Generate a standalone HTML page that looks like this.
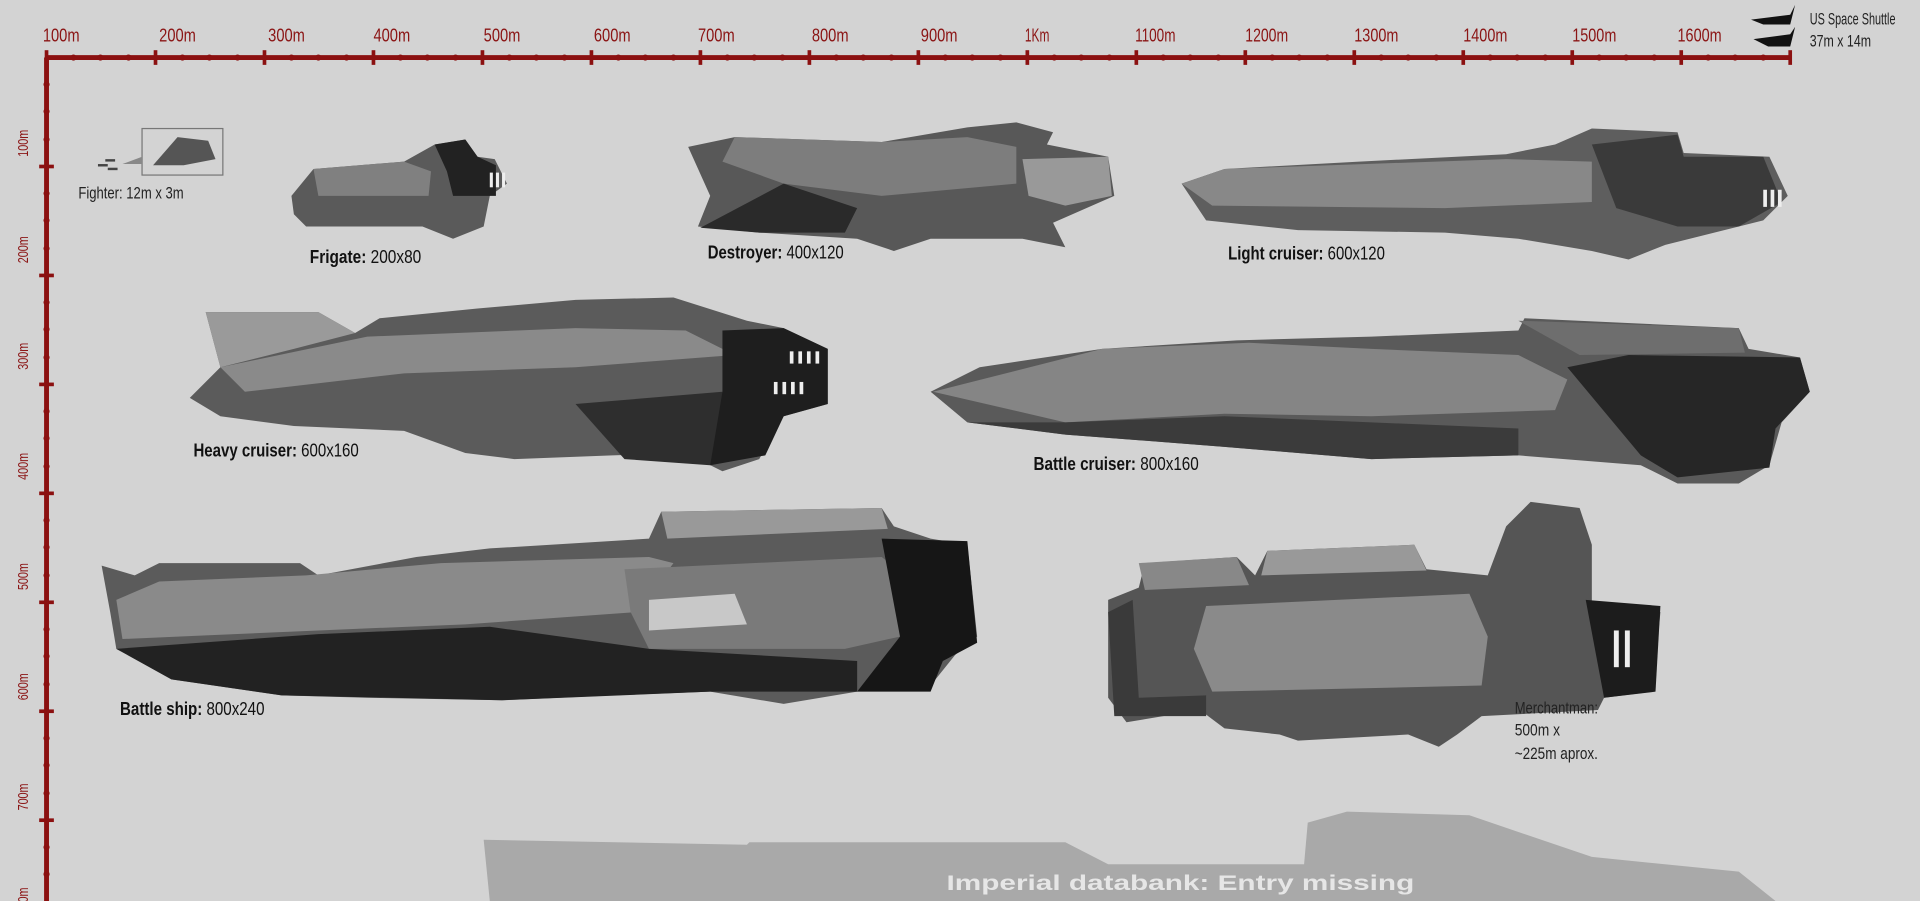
<!DOCTYPE html>
<html><head><meta charset="utf-8"><style>
html,body{margin:0;padding:0;background:#d3d3d3;}
svg{display:block;}
text{font-family:"Liberation Sans Narrow","Liberation Sans",sans-serif;}
</style></head><body>
<svg width="1920" height="901" viewBox="0 0 1568 736" preserveAspectRatio="none" xmlns="http://www.w3.org/2000/svg">
<rect width="1568" height="736" fill="#d3d3d3"/>
<polygon points="395,686 610,690 612,688 870,688 905,706 1065,706 1068,672 1100,663 1200,666 1300,700 1420,712 1450,736 400,736" fill="#a9a9a9"/>
<text x="773" y="727" font-family="Liberation Sans" font-weight="bold" font-size="17" fill="#e6e6e6" textLength="382" lengthAdjust="spacingAndGlyphs">Imperial databank: Entry missing</text>

<g stroke="#8b1010" fill="#8b1010">
<line x1="38" y1="47" x2="1463" y2="47" stroke-width="4"/>
<line x1="38" y1="47" x2="38" y2="736" stroke-width="4"/>
<g stroke-width="3">
<line x1="38" y1="41" x2="38" y2="53"/><line x1="127" y1="41" x2="127" y2="53"/><line x1="216" y1="41" x2="216" y2="53"/><line x1="305" y1="41" x2="305" y2="53"/><line x1="394" y1="41" x2="394" y2="53"/><line x1="483" y1="41" x2="483" y2="53"/><line x1="572" y1="41" x2="572" y2="53"/><line x1="661" y1="41" x2="661" y2="53"/><line x1="750" y1="41" x2="750" y2="53"/><line x1="839" y1="41" x2="839" y2="53"/><line x1="928" y1="41" x2="928" y2="53"/><line x1="1017" y1="41" x2="1017" y2="53"/><line x1="1106" y1="41" x2="1106" y2="53"/><line x1="1195" y1="41" x2="1195" y2="53"/><line x1="1284" y1="41" x2="1284" y2="53"/><line x1="1373" y1="41" x2="1373" y2="53"/><line x1="1462" y1="41" x2="1462" y2="53"/>
<line x1="32" y1="136" x2="44" y2="136"/><line x1="32" y1="225" x2="44" y2="225"/><line x1="32" y1="314" x2="44" y2="314"/><line x1="32" y1="403" x2="44" y2="403"/><line x1="32" y1="492" x2="44" y2="492"/><line x1="32" y1="581" x2="44" y2="581"/><line x1="32" y1="670" x2="44" y2="670"/>
</g>
<g stroke="none">
<circle cx="60" cy="47" r="2.5"/><circle cx="82" cy="47" r="2.5"/><circle cx="105" cy="47" r="2.5"/>
<circle cx="149" cy="47" r="2.5"/><circle cx="171" cy="47" r="2.5"/><circle cx="194" cy="47" r="2.5"/>
<circle cx="238" cy="47" r="2.5"/><circle cx="260" cy="47" r="2.5"/><circle cx="283" cy="47" r="2.5"/>
<circle cx="327" cy="47" r="2.5"/><circle cx="349" cy="47" r="2.5"/><circle cx="372" cy="47" r="2.5"/>
<circle cx="416" cy="47" r="2.5"/><circle cx="438" cy="47" r="2.5"/><circle cx="461" cy="47" r="2.5"/>
<circle cx="505" cy="47" r="2.5"/><circle cx="527" cy="47" r="2.5"/><circle cx="550" cy="47" r="2.5"/>
<circle cx="594" cy="47" r="2.5"/><circle cx="616" cy="47" r="2.5"/><circle cx="639" cy="47" r="2.5"/>
<circle cx="683" cy="47" r="2.5"/><circle cx="705" cy="47" r="2.5"/><circle cx="728" cy="47" r="2.5"/>
<circle cx="772" cy="47" r="2.5"/><circle cx="794" cy="47" r="2.5"/><circle cx="817" cy="47" r="2.5"/>
<circle cx="861" cy="47" r="2.5"/><circle cx="883" cy="47" r="2.5"/><circle cx="906" cy="47" r="2.5"/>
<circle cx="950" cy="47" r="2.5"/><circle cx="972" cy="47" r="2.5"/><circle cx="995" cy="47" r="2.5"/>
<circle cx="1039" cy="47" r="2.5"/><circle cx="1061" cy="47" r="2.5"/><circle cx="1084" cy="47" r="2.5"/>
<circle cx="1128" cy="47" r="2.5"/><circle cx="1150" cy="47" r="2.5"/><circle cx="1173" cy="47" r="2.5"/>
<circle cx="1217" cy="47" r="2.5"/><circle cx="1239" cy="47" r="2.5"/><circle cx="1262" cy="47" r="2.5"/>
<circle cx="1306" cy="47" r="2.5"/><circle cx="1328" cy="47" r="2.5"/><circle cx="1351" cy="47" r="2.5"/>
<circle cx="1395" cy="47" r="2.5"/><circle cx="1417" cy="47" r="2.5"/><circle cx="1440" cy="47" r="2.5"/>
<circle cx="38" cy="69" r="2.5"/><circle cx="38" cy="91" r="2.5"/><circle cx="38" cy="114" r="2.5"/>
<circle cx="38" cy="158" r="2.5"/><circle cx="38" cy="180" r="2.5"/><circle cx="38" cy="203" r="2.5"/>
<circle cx="38" cy="247" r="2.5"/><circle cx="38" cy="269" r="2.5"/><circle cx="38" cy="292" r="2.5"/>
<circle cx="38" cy="336" r="2.5"/><circle cx="38" cy="358" r="2.5"/><circle cx="38" cy="381" r="2.5"/>
<circle cx="38" cy="425" r="2.5"/><circle cx="38" cy="447" r="2.5"/><circle cx="38" cy="470" r="2.5"/>
<circle cx="38" cy="514" r="2.5"/><circle cx="38" cy="536" r="2.5"/><circle cx="38" cy="559" r="2.5"/>
<circle cx="38" cy="603" r="2.5"/><circle cx="38" cy="625" r="2.5"/><circle cx="38" cy="648" r="2.5"/>
<circle cx="38" cy="692" r="2.5"/><circle cx="38" cy="714" r="2.5"/>
</g>
</g>
<g fill="#8b1515" font-size="15" lengthAdjust="spacingAndGlyphs">
<text x="35" y="34" textLength="30" lengthAdjust="spacingAndGlyphs">100m</text>
<text x="130" y="34" textLength="30" lengthAdjust="spacingAndGlyphs">200m</text>
<text x="219" y="34" textLength="30" lengthAdjust="spacingAndGlyphs">300m</text>
<text x="305" y="34" textLength="30" lengthAdjust="spacingAndGlyphs">400m</text>
<text x="395" y="34" textLength="30" lengthAdjust="spacingAndGlyphs">500m</text>
<text x="485" y="34" textLength="30" lengthAdjust="spacingAndGlyphs">600m</text>
<text x="570" y="34" textLength="30" lengthAdjust="spacingAndGlyphs">700m</text>
<text x="663" y="34" textLength="30" lengthAdjust="spacingAndGlyphs">800m</text>
<text x="752" y="34" textLength="30" lengthAdjust="spacingAndGlyphs">900m</text>
<text x="837" y="34" textLength="20" lengthAdjust="spacingAndGlyphs">1Km</text>
<text x="927" y="34" textLength="33" lengthAdjust="spacingAndGlyphs">1100m</text>
<text x="1017" y="34" textLength="35" lengthAdjust="spacingAndGlyphs">1200m</text>
<text x="1106" y="34" textLength="36" lengthAdjust="spacingAndGlyphs">1300m</text>
<text x="1195" y="34" textLength="36" lengthAdjust="spacingAndGlyphs">1400m</text>
<text x="1284" y="34" textLength="36" lengthAdjust="spacingAndGlyphs">1500m</text>
<text x="1370" y="34" textLength="36" lengthAdjust="spacingAndGlyphs">1600m</text>
</g>
<g fill="#8b1515" font-size="12">
<text transform="translate(23,128) rotate(-90)" textLength="22" lengthAdjust="spacingAndGlyphs">100m</text>
<text transform="translate(23,215) rotate(-90)" textLength="22" lengthAdjust="spacingAndGlyphs">200m</text>
<text transform="translate(23,302) rotate(-90)" textLength="22" lengthAdjust="spacingAndGlyphs">300m</text>
<text transform="translate(23,392) rotate(-90)" textLength="22" lengthAdjust="spacingAndGlyphs">400m</text>
<text transform="translate(23,482) rotate(-90)" textLength="22" lengthAdjust="spacingAndGlyphs">500m</text>
<text transform="translate(23,572) rotate(-90)" textLength="22" lengthAdjust="spacingAndGlyphs">600m</text>
<text transform="translate(23,662) rotate(-90)" textLength="22" lengthAdjust="spacingAndGlyphs">700m</text>
<text transform="translate(23,747) rotate(-90)" textLength="22" lengthAdjust="spacingAndGlyphs">800m</text>
</g>

<polygon points="1430,16 1462,12 1466,4 1462,20 1440,20" fill="#111"/>
<polygon points="1432,32 1462,28 1466,22 1462,38 1444,38" fill="#111"/>
<g font-size="13.5" fill="#222"><text x="1478" y="20" textLength="70" lengthAdjust="spacingAndGlyphs">US Space Shuttle</text><text x="1478" y="38" textLength="50" lengthAdjust="spacingAndGlyphs">37m x 14m</text></g>

<rect x="116" y="105" width="66" height="38" fill="none" stroke="#777" stroke-width="1"/>
<polygon points="125,135 145,112 170,115 176,130 150,135" fill="#555"/>
<polygon points="100,134 116,128 116,134" fill="#888"/>
<g fill="#444"><rect x="86" y="130" width="8" height="2"/><rect x="80" y="134" width="8" height="2"/><rect x="88" y="137" width="8" height="2"/></g>
<text x="64" y="162" font-size="13.5" fill="#222" textLength="86" lengthAdjust="spacingAndGlyphs">Fighter: 12m x 3m</text>

<polygon points="238,160 256,138 330,132 355,118 380,114 390,128 404,130 414,150 400,160 395,185 370,195 345,185 250,185 240,175" fill="#5a5a5a"/>
<polygon points="256,138 330,132 352,140 350,160 260,160" fill="#808080"/>
<polygon points="355,118 380,114 390,128 405,135 405,160 370,160 365,140" fill="#222"/>
<g fill="#eee"><rect x="400" y="141" width="2.5" height="12"/><rect x="405" y="141" width="2.5" height="12"/><rect x="410" y="141" width="2.5" height="12"/></g>

<polygon points="562,120 600,112 720,116 790,104 830,100 860,108 855,118 905,128 910,160 860,182 870,202 835,195 760,195 730,205 700,195 620,190 570,185 580,160" fill="#585858"/>
<polygon points="600,112 720,116 790,112 830,120 830,150 720,160 640,150 590,132" fill="#7d7d7d"/>
<polygon points="572,186 640,150 700,170 690,190 620,190" fill="#2a2a2a"/>
<polygon points="835,130 905,128 908,160 870,168 840,160" fill="#999"/>

<polygon points="965,150 1000,138 1110,132 1230,126 1270,118 1300,105 1370,108 1375,125 1445,128 1460,160 1440,180 1400,190 1360,200 1330,212 1300,205 1240,195 1180,190 1060,188 985,180" fill="#5e5e5e"/>
<polygon points="965,150 1000,138 1230,130 1300,132 1300,165 1180,170 990,168" fill="#888"/>
<polygon points="1300,118 1370,110 1375,128 1440,128 1455,165 1420,185 1370,185 1320,170" fill="#3a3a3a"/>
<g fill="#eee"><rect x="1440" y="155" width="3" height="14"/><rect x="1446" y="155" width="3" height="14"/><rect x="1452" y="155" width="3" height="14"/></g>

<polygon points="155,325 180,300 168,255 260,255 290,272 310,260 390,252 470,245 550,243 610,262 640,268 676,285 676,330 640,340 620,375 590,385 560,370 500,372 420,375 380,370 330,352 240,348 180,340" fill="#5b5b5b"/>
<polygon points="180,300 300,275 470,268 560,270 600,290 470,300 330,305 200,320" fill="#8a8a8a"/>
<polygon points="168,255 260,255 290,272 240,285 180,300" fill="#9a9a9a"/>
<polygon points="590,270 640,268 676,285 676,330 640,340 625,372 580,380 560,355 590,320" fill="#1e1e1e"/>
<polygon points="470,330 590,320 580,380 510,375" fill="#2e2e2e"/>
<g fill="#eee"><rect x="645" y="287" width="3" height="10"/><rect x="652" y="287" width="3" height="10"/><rect x="659" y="287" width="3" height="10"/><rect x="666" y="287" width="3" height="10"/><rect x="632" y="312" width="3" height="10"/><rect x="639" y="312" width="3" height="10"/><rect x="646" y="312" width="3" height="10"/><rect x="653" y="312" width="3" height="10"/></g>

<polygon points="760,320 800,300 900,285 1010,278 1120,275 1240,270 1245,260 1420,268 1428,285 1470,292 1478,320 1455,345 1445,380 1420,395 1370,395 1340,380 1240,372 1120,375 1000,365 870,355 790,345" fill="#5a5a5a"/>
<polygon points="762,320 900,285 1020,280 1120,285 1240,290 1280,310 1270,335 1120,340 1000,338 870,345" fill="#858585"/>
<polygon points="1240,262 1420,268 1425,288 1290,290" fill="#6e6e6e"/>
<polygon points="1280,300 1330,290 1470,292 1478,320 1450,350 1445,382 1370,390 1340,372" fill="#262626"/>
<polygon points="790,345 870,345 1000,340 1120,345 1240,350 1240,372 1120,375 1000,365 870,355" fill="#3b3b3b"/>

<polygon points="83,462 110,470 130,460 245,460 260,470 340,455 400,448 530,440 540,418 720,415 730,430 760,440 790,445 798,520 780,535 760,560 700,565 640,575 580,565 500,568 410,572 300,570 230,568 140,555 95,530 90,500" fill="#5b5b5b"/>
<polygon points="95,490 130,475 250,470 360,460 530,455 550,460 520,500 380,510 260,515 100,522" fill="#8a8a8a"/>
<polygon points="540,418 720,415 725,432 545,440" fill="#999"/>
<polygon points="510,465 720,455 740,470 735,520 690,530 530,530 515,500" fill="#7a7a7a"/>
<polygon points="720,440 790,442 798,525 770,540 760,565 700,565 735,520" fill="#161616"/>
<polygon points="95,530 260,518 400,512 530,530 700,540 700,565 580,565 410,572 230,568 140,555" fill="#222"/>
<polygon points="530,490 600,485 610,510 530,515" fill="#c8c8c8"/>

<polygon points="905,490 930,480 935,460 1010,455 1025,470 1035,450 1155,445 1165,465 1215,470 1230,430 1250,410 1290,415 1300,445 1300,495 1340,495 1356,500 1350,565 1310,570 1305,580 1210,585 1190,600 1175,610 1150,600 1060,605 1045,600 1000,595 980,580 920,590 905,570" fill="#555"/>
<polygon points="985,495 1200,485 1215,520 1210,560 990,565 975,530" fill="#8a8a8a"/>
<polygon points="930,460 1010,455 1020,478 935,482" fill="#888"/>
<polygon points="1035,450 1155,445 1165,466 1030,470" fill="#999"/>
<polygon points="1295,490 1356,495 1352,565 1310,570" fill="#1c1c1c"/>
<polygon points="905,500 925,490 930,570 985,568 985,585 910,585" fill="#3a3a3a"/>
<g fill="#eee"><rect x="1318" y="515" width="4" height="30"/><rect x="1327" y="515" width="4" height="30"/></g>
<g font-size="13.5" fill="#222"><text x="1237" y="583" textLength="68" lengthAdjust="spacingAndGlyphs">Merchantman:</text><text x="1237" y="601" textLength="37" lengthAdjust="spacingAndGlyphs">500m x</text><text x="1237" y="620" textLength="68" lengthAdjust="spacingAndGlyphs">~225m aprox.</text></g>

<g font-size="15" fill="#111">
<text x="253" y="215" textLength="91" lengthAdjust="spacingAndGlyphs"><tspan font-weight="bold">Frigate:</tspan> 200x80</text>
<text x="578" y="211" textLength="111" lengthAdjust="spacingAndGlyphs"><tspan font-weight="bold">Destroyer:</tspan> 400x120</text>
<text x="1003" y="212" textLength="128" lengthAdjust="spacingAndGlyphs"><tspan font-weight="bold">Light cruiser:</tspan> 600x120</text>
<text x="158" y="373" textLength="135" lengthAdjust="spacingAndGlyphs"><tspan font-weight="bold">Heavy cruiser:</tspan> 600x160</text>
<text x="844" y="384" textLength="135" lengthAdjust="spacingAndGlyphs"><tspan font-weight="bold">Battle cruiser:</tspan> 800x160</text>
<text x="98" y="584" textLength="118" lengthAdjust="spacingAndGlyphs"><tspan font-weight="bold">Battle ship:</tspan> 800x240</text>
</g>
</svg>
</body></html>
